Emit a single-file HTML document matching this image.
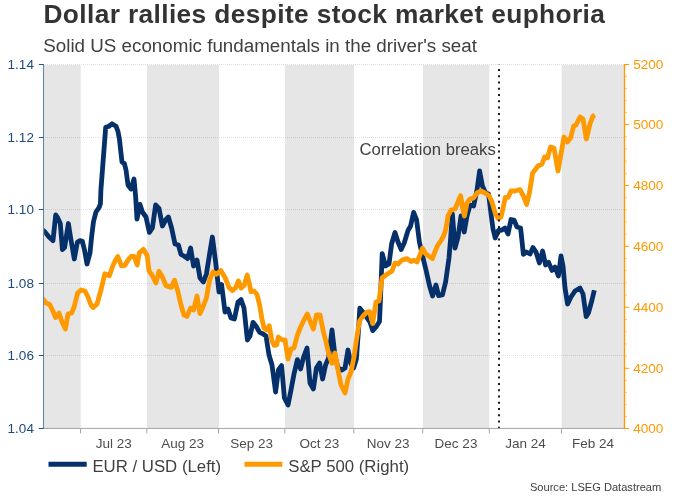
<!DOCTYPE html>
<html lang="en"><head><meta charset="utf-8"><title>Dollar rallies despite stock market euphoria</title>
<style>
html,body{margin:0;padding:0;background:#fff;}
body{width:675px;height:499px;overflow:hidden;}
svg{display:block;font-family:"Liberation Sans",Arial,Helvetica,sans-serif;}
</style></head><body>
<svg width="675" height="499" viewBox="0 0 675 499">
<rect width="675" height="499" fill="#ffffff"/>
<rect x="43.6" y="65.0" width="37.1" height="363.5" fill="#e6e6e6"/>
<rect x="147.0" y="65.0" width="71.9" height="363.5" fill="#e6e6e6"/>
<rect x="285.1" y="65.0" width="69.0" height="363.5" fill="#e6e6e6"/>
<rect x="423.0" y="65.0" width="66.3" height="363.5" fill="#e6e6e6"/>
<rect x="561.7" y="65.0" width="62.8" height="363.5" fill="#e6e6e6"/>
<line x1="45.0" y1="64.50" x2="624.0" y2="64.50" stroke="#000000" stroke-opacity="0.13" stroke-width="1" stroke-dasharray="1 1"/>
<line x1="45.0" y1="137.50" x2="624.0" y2="137.50" stroke="#000000" stroke-opacity="0.13" stroke-width="1" stroke-dasharray="1 1"/>
<line x1="45.0" y1="209.50" x2="624.0" y2="209.50" stroke="#000000" stroke-opacity="0.13" stroke-width="1" stroke-dasharray="1 1"/>
<line x1="45.0" y1="283.50" x2="624.0" y2="283.50" stroke="#000000" stroke-opacity="0.13" stroke-width="1" stroke-dasharray="1 1"/>
<line x1="45.0" y1="355.50" x2="624.0" y2="355.50" stroke="#000000" stroke-opacity="0.13" stroke-width="1" stroke-dasharray="1 1"/>
<line x1="45.0" y1="428.50" x2="624.0" y2="428.50" stroke="#000000" stroke-opacity="0.13" stroke-width="1" stroke-dasharray="1 1"/>
<clipPath id="plot"><rect x="44.1" y="64.5" width="580.4" height="364.0"/></clipPath>
<path clip-path="url(#plot)" d="M42.0 229.6 L44.5 231.4 L49.0 237.0 L53.0 240.6 L55.7 215.0 L57.5 217.5 L60.3 223.5 L62.4 249.5 L64.6 247.5 L68.4 223.5 L71.0 240.0 L74.3 259.0 L77.3 242.3 L80.0 240.6 L82.3 241.2 L84.5 250.0 L87.0 264.0 L90.0 253.0 L91.6 237.0 L93.5 221.5 L96.0 211.8 L99.0 207.6 L100.4 203.8 L100.9 190.0 L105.7 127.3 L108.5 126.5 L112.0 123.8 L116.0 126.2 L118.0 131.5 L119.4 139.0 L122.0 162.0 L124.4 163.6 L126.0 170.0 L128.0 185.0 L131.0 189.0 L134.0 179.0 L135.6 196.0 L137.0 219.0 L140.0 204.4 L142.4 212.0 L146.0 217.0 L149.4 232.4 L152.4 228.0 L155.6 205.0 L159.0 208.5 L162.4 226.0 L165.6 220.0 L168.4 217.0 L171.6 228.0 L175.0 244.0 L178.4 245.0 L181.0 254.4 L184.0 256.0 L187.6 258.6 L190.6 248.0 L193.6 266.0 L197.0 260.0 L200.0 278.0 L203.4 282.0 L206.4 274.0 L209.6 254.0 L212.4 237.0 L215.6 262.0 L219.0 292.0 L221.6 284.5 L225.0 312.0 L228.0 309.0 L231.0 318.0 L234.4 319.0 L238.0 302.0 L241.0 299.6 L244.0 308.0 L247.4 340.0 L250.0 336.0 L253.0 322.4 L256.0 326.0 L259.6 332.4 L262.4 333.6 L266.0 336.0 L269.0 355.0 L272.0 365.0 L275.6 392.0 L278.4 370.0 L281.6 365.6 L284.4 398.0 L288.0 405.0 L291.0 390.0 L294.0 374.0 L297.4 359.6 L300.6 369.0 L303.6 357.0 L307.0 348.0 L310.0 383.0 L313.4 389.0 L316.4 368.0 L319.6 363.0 L322.6 379.0 L325.6 365.0 L328.6 358.0 L332.0 330.0 L335.0 356.0 L338.0 368.0 L342.0 370.0 L345.0 368.0 L348.0 350.0 L351.0 364.0 L353.6 368.0 L356.4 359.0 L358.5 330.0 L359.8 308.2 L363.0 312.3 L366.5 317.0 L370.0 322.0 L372.7 330.6 L376.5 326.3 L379.5 321.5 L380.2 306.0 L382.2 253.6 L385.6 266.0 L389.0 264.0 L391.6 244.0 L395.0 232.5 L398.0 242.0 L401.2 249.5 L404.2 243.0 L408.0 230.5 L410.6 226.0 L413.6 212.4 L416.6 220.0 L419.4 242.0 L422.2 254.5 L426.0 270.0 L429.6 286.0 L432.6 296.0 L436.0 285.0 L438.6 295.6 L442.4 295.0 L445.6 282.0 L449.0 258.0 L450.5 240.0 L452.4 214.0 L455.0 248.0 L458.0 237.0 L461.0 216.0 L464.2 232.0 L467.0 216.0 L470.0 205.0 L473.6 206.0 L477.0 190.0 L479.6 171.0 L482.4 186.0 L485.6 193.0 L488.6 194.0 L490.4 209.0 L493.0 229.0 L495.2 238.0 L498.4 230.5 L502.0 230.0 L505.0 228.0 L508.0 234.0 L511.0 219.5 L514.0 220.0 L517.0 227.0 L520.6 228.0 L523.4 254.4 L526.4 252.0 L530.0 254.0 L533.0 247.6 L536.0 252.0 L539.4 263.0 L542.6 251.0 L545.6 265.0 L548.6 262.4 L552.0 270.4 L555.0 267.0 L558.4 276.0 L561.0 256.0 L563.0 266.0 L565.0 288.0 L567.6 304.0 L571.0 297.0 L575.0 291.0 L580.0 288.0 L583.0 294.0 L586.2 316.6 L588.4 313.0 L592.0 300.0 L594.3 290.3" fill="none" stroke="#06306a" stroke-width="4.8" stroke-linejoin="round" stroke-linecap="butt"/>
<path clip-path="url(#plot)" d="M42.0 297.5 L46.0 303.0 L49.6 304.4 L52.4 310.0 L55.6 317.6 L59.0 313.0 L62.0 322.0 L65.4 329.0 L68.0 314.0 L71.6 313.0 L74.4 306.0 L77.6 293.0 L81.0 290.0 L85.0 291.0 L88.0 297.0 L91.0 305.0 L93.0 307.6 L97.0 304.0 L101.0 290.0 L104.8 273.8 L109.3 275.8 L113.0 265.5 L115.5 260.0 L117.8 256.6 L121.5 265.8 L125.0 265.3 L128.0 260.0 L131.0 256.5 L134.2 256.5 L137.2 265.0 L139.3 252.8 L143.4 249.3 L147.2 255.5 L149.0 271.0 L152.0 275.0 L155.9 283.0 L159.0 271.3 L162.2 276.5 L165.9 285.6 L171.3 287.4 L174.5 280.3 L177.7 290.8 L181.0 305.0 L184.0 315.0 L187.0 316.4 L190.6 308.0 L193.6 310.0 L197.0 296.0 L200.0 313.6 L203.0 307.0 L206.4 298.0 L209.6 280.0 L213.0 271.8 L216.3 274.3 L220.8 270.6 L225.0 277.5 L229.0 287.5 L232.6 290.6 L235.6 287.8 L238.4 281.0 L241.2 288.0 L244.2 285.3 L247.2 275.0 L249.4 284.0 L251.0 291.8 L254.0 291.0 L257.0 294.5 L259.6 305.0 L262.0 319.0 L264.0 328.0 L266.4 330.0 L269.2 325.8 L272.0 341.0 L274.2 345.3 L276.6 345.0 L278.4 337.0 L281.6 339.6 L285.0 340.0 L288.0 359.0 L291.0 349.0 L294.0 348.0 L297.4 335.0 L300.6 327.0 L304.0 320.0 L307.4 314.0 L310.4 322.0 L313.4 329.0 L316.4 315.0 L320.0 315.0 L323.0 330.0 L326.0 342.0 L329.0 355.0 L332.0 363.2 L335.0 353.0 L338.0 370.0 L341.0 385.0 L345.0 393.0 L348.0 379.0 L351.0 372.0 L354.0 357.0 L357.0 336.0 L359.6 321.0 L363.0 316.0 L367.0 312.0 L369.6 311.6 L372.6 323.5 L376.0 302.0 L379.0 301.0 L382.0 278.0 L386.0 275.0 L392.0 271.0 L395.0 263.0 L398.0 264.0 L402.0 260.1 L407.0 258.6 L411.0 261.5 L414.0 260.2 L417.0 262.0 L420.0 255.0 L422.4 248.2 L425.8 254.0 L429.5 256.6 L432.4 258.6 L435.0 251.5 L437.5 245.8 L441.0 240.5 L443.6 236.0 L445.3 231.0 L446.6 225.0 L448.0 216.0 L451.0 210.0 L455.0 209.0 L458.0 202.0 L460.6 195.6 L462.6 208.0 L464.4 216.0 L467.0 203.0 L470.0 199.0 L473.6 198.0 L477.0 193.0 L481.0 191.0 L485.0 193.0 L489.0 195.5 L492.0 202.0 L495.0 212.5 L498.0 218.5 L501.0 217.0 L503.3 207.0 L505.3 197.5 L508.0 197.4 L511.0 191.0 L515.0 191.0 L520.0 189.6 L523.4 196.0 L526.6 204.4 L529.4 193.0 L532.6 173.0 L535.0 170.0 L538.0 166.0 L542.0 164.0 L544.6 157.0 L547.4 158.0 L550.6 147.0 L554.0 148.0 L558.0 171.0 L561.0 154.0 L564.0 137.0 L567.4 142.0 L570.6 138.0 L573.6 126.0 L576.0 125.0 L580.0 117.0 L583.0 119.0 L586.4 139.0 L590.0 124.0 L592.8 116.4 L595.0 115.2" fill="none" stroke="#ff9900" stroke-width="4.8" stroke-linejoin="round" stroke-linecap="butt"/>
<line x1="499" y1="64.45" x2="499" y2="428.45" stroke="#1a1a1a" stroke-width="2" stroke-dasharray="2 4.279" stroke-dashoffset="1.8"/>
<line x1="43.5" y1="64.0" x2="43.5" y2="428.9" stroke="#6585aa" stroke-width="1.1"/>
<line x1="43.6" y1="428.4" x2="624.5" y2="428.4" stroke="#a6a6a6" stroke-width="1"/>
<line x1="624.5" y1="64.0" x2="624.5" y2="428.9" stroke="#ff9900" stroke-width="1.35"/>
<line x1="38.8" y1="64.50" x2="43.6" y2="64.50" stroke="#2a5384" stroke-width="1"/>
<text x="33.9" y="69.3" font-size="13.5" fill="#1f497d" text-anchor="end">1.14</text>
<line x1="38.8" y1="137.50" x2="43.6" y2="137.50" stroke="#2a5384" stroke-width="1"/>
<text x="33.9" y="142.3" font-size="13.5" fill="#1f497d" text-anchor="end">1.12</text>
<line x1="38.8" y1="209.50" x2="43.6" y2="209.50" stroke="#2a5384" stroke-width="1"/>
<text x="33.9" y="214.3" font-size="13.5" fill="#1f497d" text-anchor="end">1.10</text>
<line x1="38.8" y1="283.50" x2="43.6" y2="283.50" stroke="#2a5384" stroke-width="1"/>
<text x="33.9" y="288.3" font-size="13.5" fill="#1f497d" text-anchor="end">1.08</text>
<line x1="38.8" y1="355.50" x2="43.6" y2="355.50" stroke="#2a5384" stroke-width="1"/>
<text x="33.9" y="360.3" font-size="13.5" fill="#1f497d" text-anchor="end">1.06</text>
<line x1="38.8" y1="428.50" x2="43.6" y2="428.50" stroke="#2a5384" stroke-width="1"/>
<text x="33.9" y="433.3" font-size="13.5" fill="#1f497d" text-anchor="end">1.04</text>
<line x1="624.5" y1="64.50" x2="629.1" y2="64.50" stroke="#ff9900" stroke-width="1" opacity="1"/>
<line x1="624.5" y1="76.52" x2="627.1" y2="76.52" stroke="#ff9900" stroke-width="1" opacity="0.5"/>
<line x1="624.5" y1="88.54" x2="627.1" y2="88.54" stroke="#ff9900" stroke-width="1" opacity="0.5"/>
<line x1="624.5" y1="100.56" x2="627.1" y2="100.56" stroke="#ff9900" stroke-width="1" opacity="0.5"/>
<line x1="624.5" y1="112.58" x2="627.1" y2="112.58" stroke="#ff9900" stroke-width="1" opacity="0.5"/>
<line x1="624.5" y1="124.60" x2="629.1" y2="124.60" stroke="#ff9900" stroke-width="1" opacity="1"/>
<line x1="624.5" y1="136.78" x2="627.1" y2="136.78" stroke="#ff9900" stroke-width="1" opacity="0.5"/>
<line x1="624.5" y1="148.96" x2="627.1" y2="148.96" stroke="#ff9900" stroke-width="1" opacity="0.5"/>
<line x1="624.5" y1="161.14" x2="627.1" y2="161.14" stroke="#ff9900" stroke-width="1" opacity="0.5"/>
<line x1="624.5" y1="173.32" x2="627.1" y2="173.32" stroke="#ff9900" stroke-width="1" opacity="0.5"/>
<line x1="624.5" y1="185.50" x2="629.1" y2="185.50" stroke="#ff9900" stroke-width="1" opacity="1"/>
<line x1="624.5" y1="197.66" x2="627.1" y2="197.66" stroke="#ff9900" stroke-width="1" opacity="0.5"/>
<line x1="624.5" y1="209.82" x2="627.1" y2="209.82" stroke="#ff9900" stroke-width="1" opacity="0.5"/>
<line x1="624.5" y1="221.98" x2="627.1" y2="221.98" stroke="#ff9900" stroke-width="1" opacity="0.5"/>
<line x1="624.5" y1="234.14" x2="627.1" y2="234.14" stroke="#ff9900" stroke-width="1" opacity="0.5"/>
<line x1="624.5" y1="246.30" x2="629.1" y2="246.30" stroke="#ff9900" stroke-width="1" opacity="1"/>
<line x1="624.5" y1="258.50" x2="627.1" y2="258.50" stroke="#ff9900" stroke-width="1" opacity="0.5"/>
<line x1="624.5" y1="270.70" x2="627.1" y2="270.70" stroke="#ff9900" stroke-width="1" opacity="0.5"/>
<line x1="624.5" y1="282.90" x2="627.1" y2="282.90" stroke="#ff9900" stroke-width="1" opacity="0.5"/>
<line x1="624.5" y1="295.10" x2="627.1" y2="295.10" stroke="#ff9900" stroke-width="1" opacity="0.5"/>
<line x1="624.5" y1="307.30" x2="629.1" y2="307.30" stroke="#ff9900" stroke-width="1" opacity="1"/>
<line x1="624.5" y1="319.50" x2="627.1" y2="319.50" stroke="#ff9900" stroke-width="1" opacity="0.5"/>
<line x1="624.5" y1="331.70" x2="627.1" y2="331.70" stroke="#ff9900" stroke-width="1" opacity="0.5"/>
<line x1="624.5" y1="343.90" x2="627.1" y2="343.90" stroke="#ff9900" stroke-width="1" opacity="0.5"/>
<line x1="624.5" y1="356.10" x2="627.1" y2="356.10" stroke="#ff9900" stroke-width="1" opacity="0.5"/>
<line x1="624.5" y1="368.30" x2="629.1" y2="368.30" stroke="#ff9900" stroke-width="1" opacity="1"/>
<line x1="624.5" y1="380.34" x2="627.1" y2="380.34" stroke="#ff9900" stroke-width="1" opacity="0.5"/>
<line x1="624.5" y1="392.38" x2="627.1" y2="392.38" stroke="#ff9900" stroke-width="1" opacity="0.5"/>
<line x1="624.5" y1="404.42" x2="627.1" y2="404.42" stroke="#ff9900" stroke-width="1" opacity="0.5"/>
<line x1="624.5" y1="416.46" x2="627.1" y2="416.46" stroke="#ff9900" stroke-width="1" opacity="0.5"/>
<line x1="624.5" y1="428.50" x2="629.1" y2="428.50" stroke="#ff9900" stroke-width="1" opacity="1"/>
<text x="633.2" y="69.3" font-size="13.6" fill="#ff9900">5200</text>
<text x="633.2" y="129.4" font-size="13.6" fill="#ff9900">5000</text>
<text x="633.2" y="190.3" font-size="13.6" fill="#ff9900">4800</text>
<text x="633.2" y="251.1" font-size="13.6" fill="#ff9900">4600</text>
<text x="633.2" y="312.1" font-size="13.6" fill="#ff9900">4400</text>
<text x="633.2" y="373.1" font-size="13.6" fill="#ff9900">4200</text>
<text x="633.2" y="433.3" font-size="13.6" fill="#ff9900">4000</text>
<line x1="80.5" y1="428.4" x2="80.5" y2="433.4" stroke="#a6a6a6" stroke-width="1"/>
<line x1="146.8" y1="428.4" x2="146.8" y2="433.4" stroke="#a6a6a6" stroke-width="1"/>
<line x1="218.5" y1="428.4" x2="218.5" y2="433.4" stroke="#a6a6a6" stroke-width="1"/>
<line x1="284.8" y1="428.4" x2="284.8" y2="433.4" stroke="#a6a6a6" stroke-width="1"/>
<line x1="353.8" y1="428.4" x2="353.8" y2="433.4" stroke="#a6a6a6" stroke-width="1"/>
<line x1="422.7" y1="428.4" x2="422.7" y2="433.4" stroke="#a6a6a6" stroke-width="1"/>
<line x1="489.3" y1="428.4" x2="489.3" y2="433.4" stroke="#a6a6a6" stroke-width="1"/>
<line x1="561.5" y1="428.4" x2="561.5" y2="433.4" stroke="#a6a6a6" stroke-width="1"/>
<text x="113.7" y="448" font-size="13.5" fill="#4d4d4d" text-anchor="middle">Jul 23</text>
<text x="182.7" y="448" font-size="13.5" fill="#4d4d4d" text-anchor="middle">Aug 23</text>
<text x="251.7" y="448" font-size="13.5" fill="#4d4d4d" text-anchor="middle">Sep 23</text>
<text x="319.3" y="448" font-size="13.5" fill="#4d4d4d" text-anchor="middle">Oct 23</text>
<text x="388.2" y="448" font-size="13.5" fill="#4d4d4d" text-anchor="middle">Nov 23</text>
<text x="456.0" y="448" font-size="13.5" fill="#4d4d4d" text-anchor="middle">Dec 23</text>
<text x="525.4" y="448" font-size="13.5" fill="#4d4d4d" text-anchor="middle">Jan 24</text>
<text x="593.0" y="448" font-size="13.5" fill="#4d4d4d" text-anchor="middle">Feb 24</text>
<text x="359.4" y="154.6" font-size="16.7" fill="#404040">Correlation breaks</text>
<text x="43.5" y="22.5" font-size="26.3" font-weight="bold" fill="#333333" textLength="561.4">Dollar rallies despite stock market euphoria</text>
<text x="43.3" y="51.7" font-size="18.8" fill="#404040">Solid US economic fundamentals in the driver's seat</text>
<line x1="48.5" y1="464.35" x2="86.7" y2="464.35" stroke="#06306a" stroke-width="5"/>
<text x="92.4" y="471.8" font-size="16.8" fill="#404040">EUR / USD (Left)</text>
<line x1="244.5" y1="464.35" x2="282.3" y2="464.35" stroke="#ff9900" stroke-width="5"/>
<text x="288.2" y="471.8" font-size="16.8" fill="#404040">S&amp;P 500 (Right)</text>
<text x="661.3" y="490.9" font-size="11.45" fill="#404040" text-anchor="end" textLength="131.4" lengthAdjust="spacingAndGlyphs">Source: LSEG Datastream</text>
</svg></body></html>
